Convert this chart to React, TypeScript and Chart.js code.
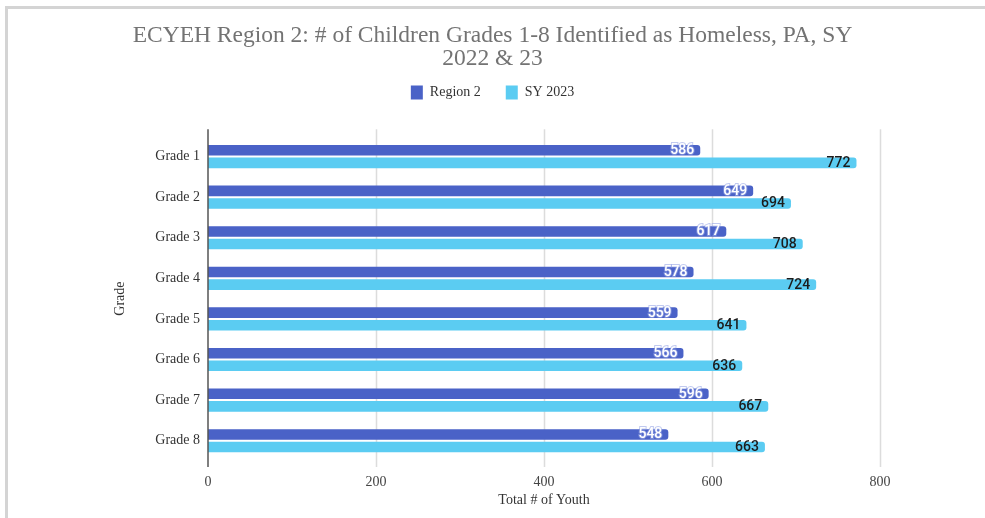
import React, { useEffect, useRef } from 'react';
import { Chart, registerables } from 'chart.js';

Chart.register(...registerables);

const categories = ['Grade 1', 'Grade 2', 'Grade 3', 'Grade 4', 'Grade 5', 'Grade 6', 'Grade 7', 'Grade 8'];
const region2 = [586, 649, 617, 578, 559, 566, 596, 548];
const sy2023 = [772, 694, 708, 724, 641, 636, 667, 663];
const xTicks = [0, 200, 400, 600, 800];
const seriesNames = ['Region 2', 'SY 2023'];
const titleLines = ['ECYEH Region 2: # of Children Grades 1-8 Identified as Homeless, PA, SY', '2022 & 23'];
const xTitle = 'Total # of Youth';
const yTitle = 'Grade';

const COLORS = ['#4a62c7', '#5bccf2'];
const SERIF = '"Liberation Serif", "Times New Roman", serif';

const gridPlugin = {
  id: 'customGrid',
  beforeDatasetsDraw(chart: any) {
    const { ctx, chartArea, scales } = chart;
    const x = scales.x;
    const top = chartArea.top - 7;
    const bottom = chartArea.bottom + 6;
    ctx.save();
    ctx.strokeStyle = '#dcdcdc';
    ctx.lineWidth = 1.5;
    x.ticks.forEach((t: any) => {
      if (t.value === 0) return;
      const px = Math.round(x.getPixelForValue(t.value)) + 0.5;
      ctx.beginPath();
      ctx.moveTo(px, top);
      ctx.lineTo(px, bottom);
      ctx.stroke();
    });
    ctx.restore();
  },
  afterDatasetsDraw(chart: any) {
    const { ctx, chartArea, scales } = chart;
    const x = scales.x;
    const top = chartArea.top - 7;
    const bottom = chartArea.bottom + 6;
    ctx.save();
    ctx.strokeStyle = '#555555';
    ctx.lineWidth = 1.5;
    const px = x.getPixelForValue(0);
    ctx.beginPath();
    ctx.moveTo(px, top);
    ctx.lineTo(px, bottom);
    ctx.stroke();
    ctx.restore();
  },
};

const labelPlugin = {
  id: 'barLabels',
  afterDatasetsDraw(chart: any) {
    const { ctx } = chart;
    ctx.save();
    ctx.font = '500 14px Roboto, "Noto Sans", sans-serif';
    ctx.textAlign = 'right';
    ctx.textBaseline = 'middle';
    chart.data.datasets.forEach((ds: any, i: number) => {
      const meta = chart.getDatasetMeta(i);
      meta.data.forEach((bar: any, j: number) => {
        const { x, y } = bar.getProps(['x', 'y'], true);
        const text = String(ds.data[j]);
        if (i === 0) {
          ctx.lineWidth = 2;
          ctx.strokeStyle = 'rgba(150,165,230,0.6)';
          ctx.strokeText(text, x - 6, y + 0.5);
          ctx.fillStyle = '#ffffff';
        } else {
          ctx.fillStyle = '#1c1c1c';
        }
        ctx.fillText(text, x - 6, y + 0.5);
      });
    });
    ctx.restore();
  },
};

export default function App() {
  const ref = useRef<HTMLCanvasElement>(null);

  useEffect(() => {
    if (!ref.current) return;
    const chart = new Chart(ref.current, {
      type: 'bar',
      data: {
        labels: categories,
        datasets: [
          {
            label: seriesNames[0],
            data: region2,
            backgroundColor: COLORS[0],
            borderRadius: 3,
            categoryPercentage: 0.62,
            barPercentage: 0.84,
          },
          {
            label: seriesNames[1],
            data: sy2023,
            backgroundColor: COLORS[1],
            borderRadius: 3,
            categoryPercentage: 0.62,
            barPercentage: 0.84,
          },
        ],
      },
      options: {
        indexAxis: 'y',
        responsive: false,
        animation: false,
        devicePixelRatio: 1,
        layout: { padding: { left: 0, right: 0, top: 0, bottom: 0 } },
        plugins: {
          title: {
            display: true,
            text: titleLines,
            color: '#737373',
            font: { family: SERIF, size: 23.5, weight: 'normal', lineHeight: 0.98 },
            padding: { top: 24, bottom: -9.5 },
          },
          legend: {
            display: true,
            position: 'top',
            labels: {
              font: { family: SERIF, size: 14 },
              color: '#333333',
              boxWidth: 12,
              boxHeight: 14,
              padding: 25,
            },
          },
          subtitle: {
            display: true,
            text: ' ',
            weight: 500,
            font: { size: 10, lineHeight: 1.2 },
            padding: { top: 14.7, bottom: 0 },
          },
          tooltip: { enabled: false },
        },
        scales: {
          x: {
            type: 'linear',
            min: 0,
            max: 800,
            afterBuildTicks: (s: any) => {
              s.ticks = xTicks.map((v) => ({ value: v }));
            },
            afterFit: (s: any) => {
              s.height = 57;
            },
            grid: { display: false, drawTicks: false },
            border: { display: false },
            ticks: {
              padding: 13,
              color: '#444444',
              font: { family: SERIF, size: 14 },
            },
            title: {
              display: true,
              text: xTitle,
              color: '#333333',
              font: { family: SERIF, size: 14 },
              padding: { top: 0, bottom: 9.5 },
            },
          },
          y: {
            afterFit: (s: any) => {
              s.width = 208;
            },
            grid: { display: false, drawTicks: false },
            border: { display: false },
            ticks: {
              padding: 8,
              color: '#333333',
              font: { family: SERIF, size: 14 },
            },
            title: {
              display: true,
              text: yTitle,
              color: '#333333',
              font: { family: SERIF, size: 14 },
              padding: { top: 111.5, bottom: 0 },
            },
          },
          yRightSpace: {
            type: 'category',
            position: 'right',
            display: true,
            afterFit: (s: any) => {
              s.width = 105;
            },
            grid: { display: false, drawTicks: false },
            border: { display: false },
            ticks: { display: false },
          },
        },
      },
      plugins: [gridPlugin, labelPlugin],
    } as any);
    return () => chart.destroy();
  }, []);

  return (
    <div style={{ position: 'absolute', left: 0, top: 0, width: 985, height: 518, background: '#ffffff', overflow: 'hidden' }}>
      <div
        style={{
          position: 'absolute',
          left: 5,
          top: 6,
          width: 990,
          height: 520,
          borderTop: '3px solid #d4d4d4',
          borderLeft: '3px solid #d4d4d4',
        }}
      />
      <canvas ref={ref} width={985} height={518} style={{ position: 'absolute', left: 0, top: 0, width: 985, height: 518 }} />
    </div>
  );
}
